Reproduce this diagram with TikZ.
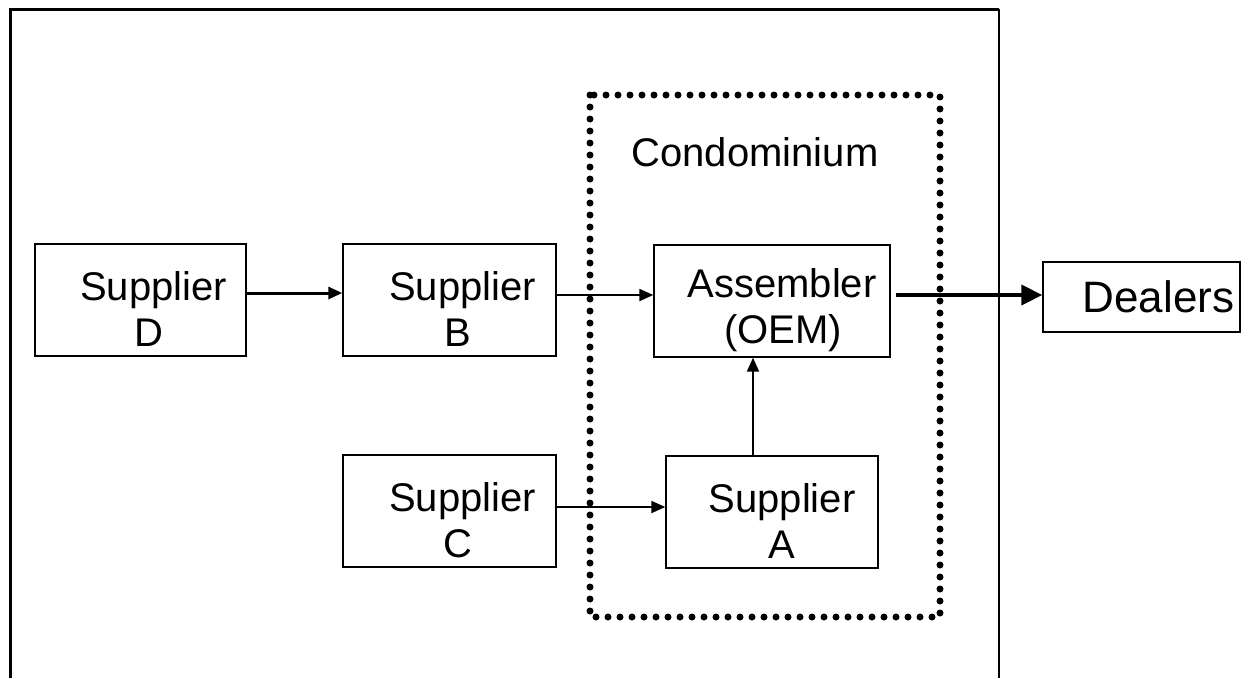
\documentclass[tikz,border=0pt]{standalone}
\usepackage{fontspec}
\setmainfont{Liberation Sans}
\usetikzlibrary{arrows.meta}
\newcommand{\highstrut}{\rule{0pt}{47pt}}
\tikzset{
  boxnode/.style={draw, line width=1.4pt, inner sep=0pt, align=center,
    font=\fontsize{40}{46}\selectfont},
  flow/.style={line width=2pt, -{Triangle[length=14pt,width=12pt]}},
  bigflow/.style={line width=4pt, -{Triangle[length=21pt,width=20pt]}}
}

\begin{document}
\begin{tikzpicture}[x=1pt, y=-1pt]
\useasboundingbox (0,0) rectangle (1250,678);
% outer frame
\draw[line width=3pt] (10,678) -- (10,9) -- (999,9);
\draw[line width=2pt] (999,9) -- (999,678);
% condominium
\draw[line width=7pt, line cap=round, dash pattern=on 0pt off 12pt] (590,95) rectangle (940,617);
\node[font=\fontsize{40}{46}\selectfont] (condo) at (755,152) {Condominium};
% boxes
\node[boxnode, minimum width=211pt, minimum height=112pt] (supD) at (140.5,300) {\highstrut\hspace*{26pt}Supplier\\\hspace*{16pt}D};
\node[boxnode, minimum width=213pt, minimum height=112pt] (supB) at (449.5,300) {\highstrut\hspace*{26pt}Supplier\\\hspace*{16pt}B};
\node[boxnode, minimum width=213pt, minimum height=112pt] (supC) at (449.5,511) {\highstrut\hspace*{26pt}Supplier\\\hspace*{16pt}C};
\node[boxnode, minimum width=236pt, minimum height=112pt] (asm) at (772,301) {\highstrut\hspace*{20pt}Assembler\\\hspace*{22pt}(OEM)};
\node[boxnode, minimum width=212pt, minimum height=112pt] (supA) at (772,512) {\highstrut\hspace*{20pt}Supplier\\\hspace*{20pt}A};
\node[boxnode, minimum width=197pt, minimum height=70pt, font=\fontsize{44}{50}\selectfont] (dealers) at (1141.5,297) {\hspace*{34pt}Dealers};
% flows
\draw[flow, line width=3pt] ([yshift=7pt]supD.east) -- ([yshift=7pt]supD.east -| supB.west);
\draw[flow] ([yshift=5pt]supB.east) -- ([yshift=5pt]supB.east -| asm.west);
\draw[flow] ([yshift=4pt]supC.east) -- ([yshift=4pt]supC.east -| supA.west);
\draw[flow] ([xshift=-19pt]supA.north) -- ([xshift=-19pt]supA.north |- asm.south);
\draw[bigflow] ([xshift=5pt,yshift=6pt]asm.east) -- ([yshift=6pt]asm.east -| dealers.west);
\end{tikzpicture}
\end{document}
